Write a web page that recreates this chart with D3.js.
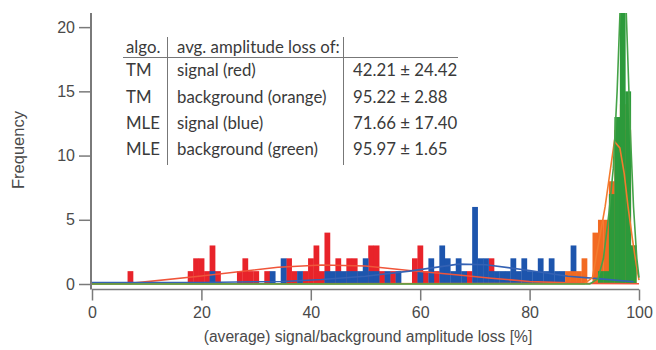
<!DOCTYPE html>
<html><head><meta charset="utf-8">
<script src="https://cdn.jsdelivr.net/npm/d3@7"></script>
<style>
html,body{margin:0;padding:0;background:#fff;}
svg{display:block;}
</style></head>
<body>
<svg id="chart" width="656" height="350"></svg>
<script>
// ---- data (bin centre in %, frequency) ----
const xTicks = [0, 20, 40, 60, 80, 100];
const yTicks = [0, 5, 10, 15, 20];

const redHist = [[7,1],[18,1],[19,2],[20,2],[21,1],[22,3],[23,1],[27,1],[28,2],[29,1],[30,1],[32,1],
  [36,2],[37,1],[39,1],[40,2],[41,3],[42,1],[43,4],[45,2],[47,2],[48,2],[51,3],[52,3],[53,1],[55,1],
  [59,2],[60,3],[61,1],[63,1],[69,1],[73,2]];
const blueHist = [[22,1],[33,1],[35,2],[38,1],[43,1],[44,1],[45,1],[46,1],[47,1],[48,1],[49,1],[50,2],
  [51,1],[52,1],[54,1],[56,1],[60,1],[62,2],[64,3],[65,2],[66,1],[67,2],[68,1],[70,6],[71,2],[72,2],
  [73,1],[74,1],[75,1],[76,1],[77,2],[78,1],[79,2],[80,1],[81,1],[82,2],[83,1],[84,2],[85,1],[86,1],[88,3]];
const orangeHist = [[87,1],[88,1],[89,1],[90,2],[92,4],[93,5],[94,5],[95,8],[96,12],[97,14],[98,12],[99,3]];
const greenHist = [[93,1],[94,1],[95,7],[96,13],[97,27],[98,15],[99,3]];

// fitted curves
const redFit = [[0,0.02],[7,0.05],[20,0.62],[34,1.3],[42,1.48],[50,1.4],[58,1.05],[67,0.7],[73,0.45],[80,0.2],[90,0.05],[100,0.02]];
const blueFit = [[0,0.12],[20,0.12],[35,0.2],[42,0.35],[50,0.6],[58,1.0],[67,1.55],[72,1.5],[80,1.05],[87,0.6],[93,0.4],[99,0.18]];
const orangeFit = [[0,0],[90,0.03],[91.5,0.5],[93.8,6],[95.5,11.1],[96.5,10.6],[97.3,8.6],[98,6],[98.8,3.5],[99.5,1.5],[100,0.3]];
const greenFit = [[0,0],[91,0],[92.5,0.4],[93.5,2],[94.5,5.5],[95.3,9],[96,15],[96.6,22],[97.6,22],[98.4,12],[99,6],[99.6,2],[100,0.5]];

const tableHeader = ["algo.", "avg. amplitude loss of:"];
const tableAlgo = ["TM", "TM", "MLE", "MLE"];
const tableWhat = ["signal (red)", "background (orange)", "signal (blue)", "background (green)"];
const tableValue = ["42.21 \u00b1 24.42", "95.22 \u00b1 2.88", "71.66 \u00b1 17.40", "95.97 \u00b1 1.65"];

// ---- layout ----
const svg = d3.select("#chart");
const x = d3.scaleLinear().domain([0, 100]).range([92, 639]);
const y = d3.scaleLinear().domain([0, 21.1]).range([284, 13]);
const axisY0 = 289.5;
const textCol = "#4a4a4a";
const axisCol = "#7a7a7a";

svg.append("defs").append("clipPath").attr("id","plotclip")
  .append("rect").attr("x", 92).attr("y", 13).attr("width", 560).attr("height", 275);

const plot = svg.append("g").attr("clip-path","url(#plotclip)");

const series = [
  {data: redHist, color: "#e8232a"},
  {data: blueHist, color: "#1d55ad"},
  {data: orangeHist, color: "#f26a22"},
  {data: greenHist, color: "#2c9a3b"}
];
series.forEach(s => {
  plot.append("g").selectAll("rect").data(s.data).join("rect")
    .attr("x", d => x(d[0] - 0.5))
    .attr("width", d => x(d[0] + 0.5) - x(d[0] - 0.5) + 0.3)
    .attr("y", d => y(d[1]))
    .attr("height", d => y(0) - y(d[1]))
    .attr("fill", s.color);
});

const line = d3.line().x(d => x(d[0])).y(d => y(d[1]));
const fits = [
  {data: redFit, color: "#f0553a"},
  {data: blueFit, color: "#3462b4"},
  {data: orangeFit, color: "#f47b2e"},
  {data: greenFit, color: "#45a348"}
];
fits.forEach(f => {
  plot.append("path").datum(f.data).attr("d", line)
    .attr("fill","none").attr("stroke", f.color).attr("stroke-width", 1.6);
});

// ---- axes ----
const xAxis = d3.axisBottom(x).tickValues(xTicks).tickSize(11).tickPadding(6).tickFormat(d3.format("d"));
const gx = svg.append("g").attr("transform", `translate(0,${axisY0})`).call(xAxis);
gx.select(".domain").attr("d", `M${x(0)},0H${x(100)}`).attr("stroke", axisCol).attr("stroke-width", 1.5);
gx.selectAll(".tick line").attr("stroke", axisCol).attr("stroke-width", 1.5);
gx.selectAll(".tick text").attr("fill", textCol).attr("font-size", 16).attr("font-family", "Liberation Sans, Arial, sans-serif");

const yAxis = d3.axisLeft(y).tickValues(yTicks).tickSize(12).tickPadding(4);
const gy = svg.append("g").attr("transform", `translate(91,0)`).call(yAxis);
gy.select(".domain").attr("d", `M0,${y.range()[1]}V${axisY0}`).attr("stroke", axisCol).attr("stroke-width", 2);
gy.selectAll(".tick line").attr("stroke", axisCol).attr("stroke-width", 1.5);
gy.selectAll(".tick text").attr("fill", textCol).attr("font-size", 16).attr("font-family", "Liberation Sans, Arial, sans-serif");

svg.append("text").attr("x", 368).attr("y", 342).attr("text-anchor","middle")
  .attr("fill", textCol).attr("font-size", 15.6).attr("font-family","Liberation Sans, Arial, sans-serif")
  .text("(average) signal/background amplitude loss [%]");
svg.append("text").attr("transform","translate(24,150) rotate(-90)").attr("text-anchor","middle")
  .attr("fill", textCol).attr("font-size", 16.5).attr("font-family","Liberation Sans, Arial, sans-serif")
  .text("Frequency");

// ---- table ----
const tbl = svg.append("g").attr("font-family","Lato, 'Open Sans', sans-serif").attr("font-size", 16.8).attr("fill", "#3a3a3a");
const col1 = 126, col2 = 177, col3 = 353;
const rowY = [53, 76, 102.5, 129, 155];
tbl.append("text").attr("x", col1).attr("y", rowY[0]).text(tableHeader[0]);
tbl.append("text").attr("x", col2).attr("y", rowY[0]).text(tableHeader[1]);
tableAlgo.forEach((a, i) => {
  tbl.append("text").attr("x", col1).attr("y", rowY[i+1]).text(a);
  tbl.append("text").attr("x", col2).attr("y", rowY[i+1]).text(tableWhat[i]);
  tbl.append("text").attr("x", col3).attr("y", rowY[i+1]).text(tableValue[i]);
});
const lc = "#777";
svg.append("line").attr("x1",123).attr("x2",458).attr("y1",57.5).attr("y2",57.5).attr("stroke",lc).attr("stroke-width",1);
svg.append("line").attr("x1",167.5).attr("x2",167.5).attr("y1",37).attr("y2",165).attr("stroke",lc).attr("stroke-width",1);
svg.append("line").attr("x1",343.5).attr("x2",343.5).attr("y1",37).attr("y2",165).attr("stroke",lc).attr("stroke-width",1);
</script>
</body></html>
